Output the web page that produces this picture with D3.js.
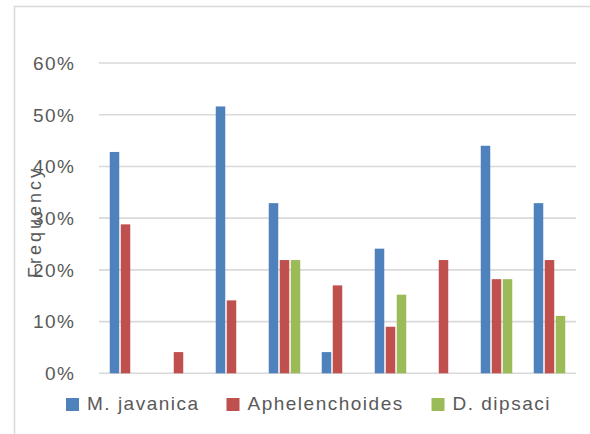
<!DOCTYPE html>
<html>
<head>
<meta charset="utf-8">
<script src="https://cdn.jsdelivr.net/npm/d3@7"></script>
<style>
  html, body { margin: 0; padding: 0; background: #fff; }
  svg { display: block; }
  text { font-family: "Liberation Sans", Arial, sans-serif; fill: #595959; }
</style>
</head>
<body>
<svg id="chart" width="590" height="434"></svg>
<script>
// Sample groups (unlabelled on the axis)
const groups = ["1", "2", "3", "4", "5", "6", "7", "8", "9"];
const seriesNames = ["M. javanica", "Aphelenchoides", "D. dipsaci"];
const seriesColors = ["#4f81bd", "#c0504d", "#9bbb59"];

// Frequency of each nematode per group (fractions)
const mJavanica      = [0.428, 0,     0.516, 0.329, 0.041, 0.241, 0,     0.440, 0.329];
const aphelenchoides = [0.288, 0.041, 0.141, 0.219, 0.170, 0.090, 0.219, 0.182, 0.219];
const dDipsaci       = [0,     0,     0,     0.219, 0,     0.152, 0,     0.182, 0.111];

const yTicks = [0, 0.1, 0.2, 0.3, 0.4, 0.5, 0.6];
const yTitle = "Frequency";

const seriesValues = [mJavanica, aphelenchoides, dDipsaci];

const svg = d3.select("#chart");

// outer chart frame (left and top edges visible)
svg.append("path")
  .attr("d", "M14.5,434 L14.5,6.5 L590,6.5")
  .attr("fill", "none")
  .attr("stroke", "#d9d9d9")
  .attr("stroke-width", 1.5);

const x = d3.scaleBand().domain(groups).range([99, 576]).paddingInner(0).paddingOuter(0);
const xs = d3.scaleBand().domain(seriesNames)
  .range([10.75, 42.25]).paddingInner(0.136).paddingOuter(0);
const y = d3.scaleLinear().domain([0, 0.6]).range([373.3, 63]);

// gridlines
svg.append("g")
  .selectAll("line")
  .data(yTicks)
  .join("line")
  .attr("x1", 99).attr("x2", 576)
  .attr("y1", d => y(d)).attr("y2", d => y(d))
  .attr("stroke", "#d9d9d9")
  .attr("stroke-width", 1.6);

// y-axis title (sits behind the tick labels)
svg.append("text")
  .attr("transform", "translate(41,278) rotate(-90)")
  .attr("text-anchor", "start")
  .style("font-size", "18px")
  .style("letter-spacing", "3px")
  .text(yTitle);

// y tick labels
const fmt = d3.format(".0%");
svg.append("g")
  .selectAll("text")
  .data(yTicks)
  .join("text")
  .attr("x", 75.5)
  .attr("y", d => y(d))
  .attr("dy", "0.36em")
  .attr("text-anchor", "end")
  .style("font-size", "19px")
  .style("letter-spacing", "1.5px")
  .text(d => fmt(d));

// bars
const barData = [];
groups.forEach((g, gi) => {
  seriesNames.forEach((s, si) => {
    barData.push({ group: g, series: s, color: seriesColors[si], value: seriesValues[si][gi] });
  });
});

svg.append("g")
  .selectAll("rect")
  .data(barData.filter(d => d.value > 0))
  .join("rect")
  .attr("x", d => x(d.group) + xs(d.series))
  .attr("width", xs.bandwidth())
  .attr("y", d => y(d.value))
  .attr("height", d => y(0) - y(d.value))
  .attr("fill", d => d.color);

// legend
const legendX = [66, 226.5, 431.5];
const legend = svg.append("g")
  .selectAll("g")
  .data(seriesNames)
  .join("g")
  .attr("transform", (d, i) => `translate(${legendX[i]},398)`);

legend.append("rect")
  .attr("width", 13).attr("height", 13)
  .attr("fill", (d, i) => seriesColors[i]);

legend.append("text")
  .attr("x", 21)
  .attr("y", 11.5)
  .style("font-size", "19px")
  .style("letter-spacing", "1.5px")
  .text(d => d);
</script>
</body>
</html>
